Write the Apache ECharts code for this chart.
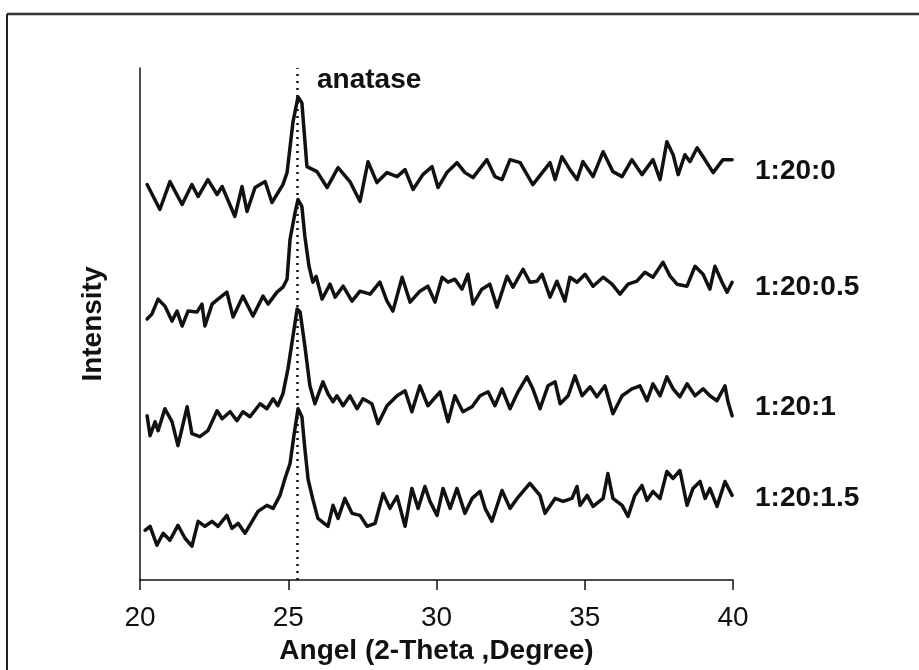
<!DOCTYPE html>
<html>
<head>
<meta charset="utf-8">
<script src="https://cdn.jsdelivr.net/npm/echarts@6/dist/echarts.min.js"></script>
<style>
html,body{margin:0;padding:0;background:#fff;}
#chart{width:919px;height:670px;}
</style>
</head>
<body>
<div id="chart"></div>
<script>
// XRD patterns: [2-theta angle (degree), intensity (arbitrary, stacked)]
const seriesNames = ['1:20:0', '1:20:0.5', '1:20:1', '1:20:1.5'];
const xTicks = [20, 25, 30, 35, 40];
const anatasePeak = 25.3;

const trace_1_20_0 = [
[20.24,397],[20.67,372],[21.01,400],[21.42,377],[21.75,397],[21.96,385],[22.29,402],[22.60,387],[22.77,395],
[23.20,365],[23.44,395],[23.61,370],[23.88,394],[24.22,400],[24.45,379],[24.82,397],[24.96,409],[25.16,460],
[25.33,485],[25.46,479],[25.63,415],[25.97,410],[26.31,394],[26.68,414],[27.08,400],[27.42,380],[27.69,420],
[27.99,399],[28.33,409],[28.67,405],[28.94,412],[29.21,392],[29.54,407],[29.85,415],[30.05,394],[30.35,409],
[30.69,419],[30.96,409],[31.23,404],[31.70,422],[31.97,405],[32.21,402],[32.48,422],[32.82,419],[33.25,397],
[33.83,419],[34.00,402],[34.23,425],[34.50,412],[34.74,402],[34.94,420],[35.28,405],[35.62,430],[35.95,410],
[36.26,405],[36.59,422],[36.93,407],[37.30,422],[37.54,402],[37.77,440],[37.98,427],[38.15,407],[38.38,427],
[38.55,420],[38.79,434],[38.99,425],[39.33,409],[39.66,422],[39.97,422]
];

const trace_1_20_05 = [
[20.24,262],[20.40,267],[20.61,282],[20.84,275],[21.08,260],[21.25,270],[21.42,255],[21.62,270],[21.92,269],
[22.09,277],[22.19,255],[22.43,277],[22.63,282],[22.93,289],[23.14,264],[23.47,285],[23.81,265],[24.15,285],
[24.32,277],[24.62,289],[24.82,294],[24.96,302],[25.06,342],[25.23,369],[25.33,382],[25.46,375],[25.56,345],
[25.70,315],[25.83,299],[25.94,305],[26.14,282],[26.41,297],[26.58,284],[26.85,295],[27.15,280],[27.42,290],
[27.76,287],[28.09,299],[28.33,280],[28.53,270],[28.84,304],[29.11,279],[29.44,290],[29.71,295],[29.95,279],
[30.19,304],[30.39,299],[30.62,302],[30.86,292],[31.06,307],[31.23,277],[31.53,292],[31.80,297],[32.04,274],
[32.38,305],[32.58,294],[32.92,312],[33.15,299],[33.39,300],[33.56,307],[33.83,284],[34.06,300],[34.33,280],
[34.50,304],[34.74,299],[35.01,307],[35.28,295],[35.62,304],[35.92,297],[36.19,287],[36.46,297],[36.76,300],
[37.03,309],[37.30,304],[37.64,319],[37.88,305],[38.11,297],[38.45,295],[38.72,315],[38.99,307],[39.22,292],
[39.39,315],[39.63,299],[39.80,289],[39.97,299]
];

const trace_1_20_1 = [
[20.24,165],[20.34,145],[20.51,159],[20.61,150],[20.84,172],[21.08,159],[21.28,135],[21.59,174],[21.75,147],
[22.02,144],[22.29,150],[22.60,170],[22.77,162],[23.04,169],[23.27,160],[23.47,169],[23.71,164],[24.05,177],
[24.28,172],[24.49,182],[24.65,175],[24.82,187],[24.99,212],[25.16,245],[25.30,272],[25.40,269],[25.56,235],
[25.73,195],[25.90,177],[26.17,199],[26.34,187],[26.51,179],[26.64,185],[26.85,175],[27.08,185],[27.32,172],
[27.52,182],[27.82,177],[28.03,157],[28.33,175],[28.67,185],[28.94,190],[29.17,169],[29.44,195],[29.71,175],
[30.12,189],[30.39,159],[30.62,185],[30.89,169],[31.20,174],[31.47,185],[31.74,189],[31.97,175],[32.21,192],
[32.48,172],[32.75,189],[33.05,204],[33.25,192],[33.49,172],[33.76,195],[34.00,199],[34.17,177],[34.44,185],
[34.67,205],[34.91,185],[35.18,194],[35.41,184],[35.68,195],[35.95,167],[36.26,185],[36.59,192],[36.86,195],
[37.10,180],[37.30,197],[37.54,185],[37.77,204],[37.98,192],[38.21,184],[38.45,197],[38.72,185],[38.99,192],
[39.22,185],[39.46,180],[39.73,195],[39.83,179],[39.97,165]
];

const trace_1_20_15 = [
[20.17,50],[20.34,54],[20.57,35],[20.78,47],[21.01,40],[21.28,55],[21.52,42],[21.75,34],[21.96,59],[22.19,54],
[22.43,59],[22.63,54],[22.93,65],[23.10,52],[23.31,57],[23.54,47],[23.78,59],[23.98,69],[24.28,75],[24.49,72],
[24.72,85],[24.89,102],[25.06,117],[25.19,145],[25.33,172],[25.46,164],[25.56,132],[25.67,101],[25.83,81],
[26.00,62],[26.34,54],[26.51,75],[26.68,62],[26.91,82],[27.15,67],[27.42,65],[27.66,54],[27.93,57],[28.20,87],
[28.43,72],[28.67,84],[28.94,54],[29.17,92],[29.38,72],[29.61,94],[29.78,79],[30.02,65],[30.22,92],[30.46,72],
[30.69,92],[30.96,67],[31.20,82],[31.47,89],[31.64,72],[31.87,59],[32.21,90],[32.48,72],[32.72,82],[33.15,97],
[33.49,85],[33.66,67],[34.00,82],[34.27,79],[34.57,82],[34.74,94],[34.84,75],[35.08,85],[35.28,74],[35.62,82],
[35.78,107],[35.95,82],[36.26,75],[36.46,64],[36.69,85],[36.93,95],[37.10,80],[37.30,89],[37.54,82],[37.77,109],
[37.98,102],[38.21,110],[38.45,75],[38.65,92],[38.89,99],[39.06,82],[39.22,92],[39.46,74],[39.73,99],[39.97,85]
];

const traces = [trace_1_20_0, trace_1_20_05, trace_1_20_1, trace_1_20_15];

const FONT = '"Liberation Sans", Arial, sans-serif';
const chart = echarts.init(document.getElementById('chart'), null, {renderer: 'canvas'});

const series = traces.map((d, i) => ({
  name: seriesNames[i],
  type: 'line',
  data: d,
  symbol: 'none',
  smooth: false,
  lineStyle: {color: '#111', width: 3.5, join: 'round', cap: 'round'},
  z: 3,
  markLine: i === 0 ? {
    silent: true,
    symbol: 'none',
    label: {show: false},
    lineStyle: {color: '#111', type: [2, 5], width: 2.5},
    data: [{xAxis: anatasePeak}]
  } : undefined
}));

const labelPos = [171, 287, 407, 498];
const graphics = [
  {type: 'line', shape: {x1: 7, y1: 14, x2: 919, y2: 14}, style: {stroke: '#333', lineWidth: 2.5}},
  {type: 'line', shape: {x1: 7, y1: 14, x2: 7, y2: 670}, style: {stroke: '#222', lineWidth: 2}},
  {type: 'text', left: 317, top: 82 - 16, style: {text: 'anatase', font: 'bold 28px ' + FONT, fill: '#111'}}
];
seriesNames.forEach((n, i) => {
  graphics.push({type: 'text', x: 755, y: labelPos[i],
    style: {text: n, font: 'bold 28px ' + FONT, fill: '#111', textVerticalAlign: 'middle'}});
});

chart.setOption({
  animation: false,
  backgroundColor: '#fff',
  grid: {left: 140, top: 68, width: 593, height: 514, containLabel: false},
  xAxis: {
    type: 'value', min: 20, max: 40, interval: 5,
    name: 'Angel (2-Theta ,Degree)', nameLocation: 'middle', nameGap: 45,
    nameTextStyle: {fontSize: 28, fontWeight: 'bold', color: '#111', fontFamily: FONT},
    axisLine: {show: true, lineStyle: {color: '#111', width: 1.5}},
    axisTick: {show: true, length: 10, lineStyle: {color: '#111', width: 1.5}},
    axisLabel: {fontSize: 28, color: '#111', margin: 24, fontFamily: FONT,
      formatter: v => (xTicks.indexOf(v) >= 0 ? String(v) : '')},
    splitLine: {show: false}
  },
  yAxis: {
    type: 'value', min: 0, max: 514,
    name: 'Intensity', nameLocation: 'middle', nameGap: 33, nameRotate: 90,
    nameTextStyle: {fontSize: 28, fontWeight: 'bold', color: '#111', fontFamily: FONT},
    axisLine: {show: true, lineStyle: {color: '#111', width: 1.5}},
    axisTick: {show: false},
    axisLabel: {show: false},
    splitLine: {show: false}
  },
  graphic: graphics,
  series: series
});
</script>
</body>
</html>
